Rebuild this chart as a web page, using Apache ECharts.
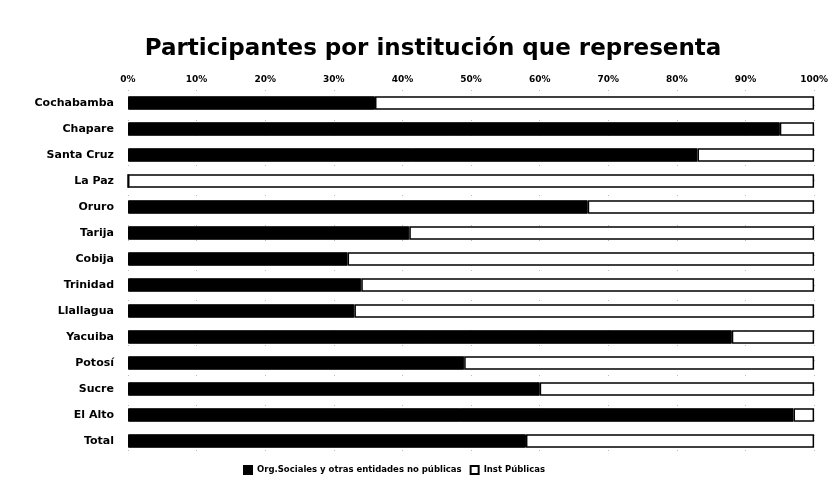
<!DOCTYPE html>
<html>
<head>
<meta charset="utf-8">
<script src="https://cdn.jsdelivr.net/npm/echarts@6/dist/echarts.min.js"></script>
<style>
  html, body { margin: 0; padding: 0; background: #fff; }
  #chart { width: 831px; height: 484px; }
</style>
</head>
<body>
<div id="chart"></div>
<script>
const categories = [
  "Cochabamba", "Chapare", "Santa Cruz", "La Paz", "Oruro", "Tarija", "Cobija",
  "Trinidad", "Llallagua", "Yacuiba", "Potosí", "Sucre", "El Alto", "Total"
];
// percentages
const orgSociales = [36, 95, 83, 0, 67, 41, 32, 34, 33, 88, 49, 60, 97, 58];
const instPublicas = orgSociales.map(function (v) { return 100 - v; });
const tickLabels = ["0%", "10%", "20%", "30%", "40%", "50%", "60%", "70%", "80%", "90%", "100%"];

const font = "DejaVu Sans, Verdana, sans-serif";

const options = {
  animation: false,
  backgroundColor: "#fff",
  title: {
    text: "Participantes por institución que representa",
    left: 428,
    textAlign: "center",
    top: 33,
    textStyle: { fontFamily: font, fontSize: 23, fontWeight: "bold", color: "#000" }
  },
  grid: { left: 128, right: 14, top: 90, bottom: 30 },
  xAxis: {
    type: "value",
    position: "top",
    min: 0,
    max: 100,
    interval: 10,
    axisLine: { show: false },
    axisTick: { show: false },
    axisLabel: {
      fontFamily: font, fontSize: 9, fontWeight: "bold", color: "#000", margin: 6,
      formatter: function (v) { return tickLabels[v / 10]; }
    },
    splitLine: { show: true, lineStyle: { color: "#bbb", type: [1, 14], width: 1 } }
  },
  yAxis: {
    type: "category",
    inverse: true,
    data: categories,
    axisLine: { show: false },
    axisTick: { show: false },
    axisLabel: {
      fontFamily: font, fontSize: 11, fontWeight: "bold", color: "#000", margin: 14
    }
  },
  legend: {
    bottom: 4,
    left: 238,
    itemWidth: 8,
    itemHeight: 8,
    itemGap: 8,
    textStyle: { fontFamily: font, fontSize: 8.5, fontWeight: "bold", color: "#000" },
    data: [
      { name: "Org.Sociales y otras entidades no públicas", icon: "rect" },
      { name: "Inst Públicas", icon: "rect" }
    ]
  },
  series: [
    {
      name: "Org.Sociales y otras entidades no públicas",
      type: "bar",
      stack: "total",
      barWidth: "52%",
      data: orgSociales,
      itemStyle: { color: "#000", borderColor: "#000", borderWidth: 1 }
    },
    {
      name: "Inst Públicas",
      type: "bar",
      stack: "total",
      barWidth: "52%",
      data: instPublicas,
      itemStyle: { color: "#fff", borderColor: "#000", borderWidth: 1.5 }
    }
  ]
};

document.addEventListener("DOMContentLoaded", function () {
  const chart = echarts.init(document.getElementById("chart"));
  chart.setOption(options);
});
</script>
</body>
</html>
